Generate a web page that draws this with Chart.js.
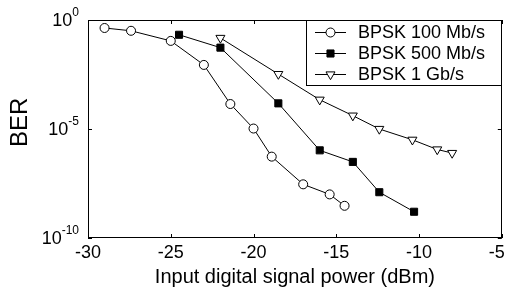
<!DOCTYPE html>
<html><head><meta charset="utf-8">
<script src="https://cdn.jsdelivr.net/npm/chart.js@4.4.0/dist/chart.umd.min.js"></script>
<style>html,body{margin:0;padding:0;background:#fff;overflow:hidden}</style>
</head><body>
<canvas id="c" width="508" height="295" style="width:508px;height:295px;display:block"></canvas>
<script>
// ---- data ----
const seriesNames = ['BPSK 100 Mb/s', 'BPSK 500 Mb/s', 'BPSK 1 Gb/s'];
const power100 = [-29, -27.4, -25, -23, -21.4, -20, -18.9, -17, -15.4, -14.5];
const ber100   = [4.3e-1, 3.2e-1, 1.1e-1, 8.7e-3, 1.4e-4, 1.05e-5, 5.4e-7, 2.9e-8, 1.0e-8, 3.0e-9];
const power500 = [-24.5, -22, -18.5, -16, -14, -12.4, -10.3];
const ber500   = [2.1e-1, 5.4e-2, 1.5e-4, 1.05e-6, 3.1e-7, 1.26e-8, 1.6e-9];
const power1G  = [-22, -18.5, -16, -14, -12.4, -10.4, -8.9, -8.0];
const ber1G    = [1.5e-1, 3.3e-3, 2.2e-4, 4.1e-5, 1.0e-5, 3.2e-6, 1.15e-6, 7.9e-7];
const xTicks = [-30, -25, -20, -15, -10, -5];
const yTickExponents = [0, -5, -10];
const xTitle = 'Input digital signal power (dBm)';
const yTitle = 'BER';

const FONT = "'Liberation Sans', Arial, sans-serif";
const toPts = (xs, ys) => xs.map((x, i) => ({x: x, y: ys[i]}));

const styles = [
  {pointStyle: 'circle', pointRadius: 4.5, pointBackgroundColor: '#fff', rotation: 0},
  {pointStyle: 'rect', pointRadius: 5, pointBackgroundColor: '#000', rotation: 0},
  {pointStyle: 'triangle', pointRadius: 5.2, pointBackgroundColor: '#fff', rotation: 180}
];
const allData = [toPts(power100, ber100), toPts(power500, ber500), toPts(power1G, ber1G)];

const datasets = allData.map((d, i) => Object.assign({
  label: seriesNames[i],
  data: d,
  borderColor: '#000',
  borderWidth: 1,
  pointBorderColor: '#000',
  pointBorderWidth: 1,
  showLine: true,
  fill: false,
  tension: 0
}, styles[i]));

function drawMarker(ctx, st, x, y) {
  ctx.save();
  ctx.lineWidth = 1;
  ctx.strokeStyle = '#000';
  ctx.fillStyle = st.pointBackgroundColor;
  const r = st.pointRadius;
  ctx.beginPath();
  if (st.pointStyle === 'circle') {
    ctx.arc(x, y, r, 0, Math.PI * 2);
  } else if (st.pointStyle === 'rect') {
    const s = r / Math.SQRT2;
    ctx.rect(x - s, y - s, 2 * s, 2 * s);
  } else {
    ctx.moveTo(x, y + r);
    ctx.lineTo(x + r * Math.sin(Math.PI / 3), y - r / 2);
    ctx.lineTo(x - r * Math.sin(Math.PI / 3), y - r / 2);
    ctx.closePath();
  }
  ctx.fill();
  ctx.stroke();
  ctx.restore();
}

const framePlugin = {
  id: 'frame',
  afterDatasetsDraw(chart) {
    const ctx = chart.ctx;
    const a = chart.chartArea;
    const xs = chart.scales.x, ys = chart.scales.y;
    ctx.save();
    ctx.strokeStyle = '#000';
    ctx.lineWidth = 1;
    // box
    ctx.strokeRect(Math.round(a.left) + 0.5, Math.round(a.top) + 0.5,
                   Math.round(a.right - a.left) - 1, Math.round(a.bottom - a.top) - 1);
    // inward ticks
    ctx.beginPath();
    xTicks.forEach(v => {
      const px = Math.round(xs.getPixelForValue(v)) + 0.5;
      ctx.moveTo(px, a.bottom); ctx.lineTo(px, a.bottom - 4);
      ctx.moveTo(px, a.top); ctx.lineTo(px, a.top + 4);
    });
    yTickExponents.forEach(e => {
      const py = Math.round(ys.getPixelForValue(Math.pow(10, e))) + 0.5;
      ctx.moveTo(a.left, py); ctx.lineTo(a.left + 4, py);
      ctx.moveTo(a.right, py); ctx.lineTo(a.right - 4, py);
    });
    ctx.stroke();
    // y tick labels with superscript exponents
    ctx.fillStyle = '#000';
    ctx.textBaseline = 'middle';
    yTickExponents.forEach(e => {
      const py = ys.getPixelForValue(Math.pow(10, e));
      const right = a.left - 9;
      ctx.font = '12px ' + FONT;
      const expTxt = String(e);
      const ew = ctx.measureText(expTxt).width;
      ctx.textAlign = 'right';
      ctx.fillText(expTxt, right, py - 7);
      ctx.font = '18px ' + FONT;
      ctx.fillText('10', right - ew, py + 1);
    });
    // legend
    const lx = 306, ly = Math.round(a.top) + 0.5, lw = Math.round(a.right) - 306 - 0.5, lh = 65;
    ctx.fillStyle = '#fff';
    ctx.fillRect(lx, ly, lw, lh);
    ctx.strokeRect(lx + 0.5, ly, lw - 0.5, lh);
    seriesNames.forEach((name, i) => {
      const cy = 32 + i * 21;
      ctx.beginPath();
      ctx.moveTo(315, cy + 0.5); ctx.lineTo(346, cy + 0.5);
      ctx.stroke();
      drawMarker(ctx, styles[i], 330.5, cy + 0.5);
      ctx.fillStyle = '#000';
      ctx.font = '18px ' + FONT;
      ctx.textAlign = 'left';
      ctx.textBaseline = 'middle';
      ctx.fillText(name, 358, cy + 1);
    });
    ctx.restore();
  }
};

new Chart(document.getElementById('c'), {
  type: 'line',
  data: {datasets: datasets},
  options: {
    responsive: false,
    devicePixelRatio: 1,
    animation: false,
    layout: {padding: {left: 0, right: 5, top: 20, bottom: 0}},
    plugins: {legend: {display: false}, tooltip: {enabled: false}},
    scales: {
      x: {
        type: 'linear', min: -30, max: -5,
        afterBuildTicks: s => { s.ticks = xTicks.map(v => ({value: v})); },
        afterFit: s => { s.height = 57; s.paddingLeft = 0; s.paddingRight = 0; },
        ticks: {color: '#000', font: {family: FONT, size: 18}, padding: 4, maxRotation: 0, autoSkip: false,
                // last label is pulled inside the canvas as in the reference
                callback: v => v === xTicks[xTicks.length - 1] ? String(v) + '\u00a0\u00a0' : String(v)},
        grid: {display: false, drawTicks: false},
        border: {display: false},
        title: {display: true, text: xTitle, color: '#000', font: {family: FONT, size: 20}, padding: {top: 0, bottom: 6}}
      },
      y: {
        type: 'logarithmic', min: 1e-10, max: 1,
        afterBuildTicks: s => { s.ticks = yTickExponents.map(e => ({value: Math.pow(10, e)})); },
        afterFit: s => { s.width = 88; },
        ticks: {display: false},
        grid: {display: false, drawTicks: false},
        border: {display: false},
        // leading spaces nudge the rotated title slightly upward, as in the reference
        title: {display: true, text: '\u00a0\u00a0' + yTitle, color: '#000', font: {family: FONT, size: 24}, padding: {top: 6, bottom: 0}}
      }
    }
  },
  plugins: [framePlugin]
});
</script>
</body></html>
